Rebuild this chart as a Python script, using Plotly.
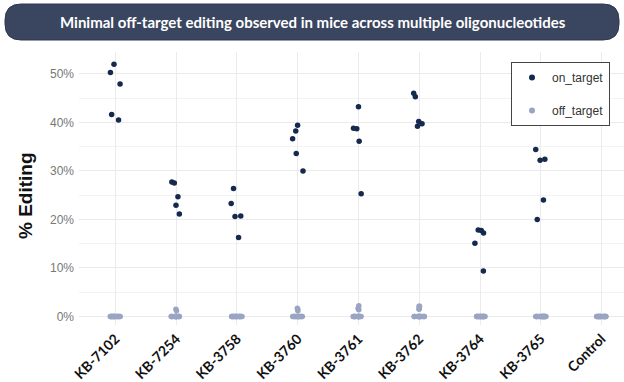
import plotly.graph_objects as go

categories = ["KB-7102", "KB-7254", "KB-3758", "KB-3760", "KB-3761",
              "KB-3762", "KB-3764", "KB-3765", "Control"]

on_target = {
    "KB-7102": [52.0, 50.3, 47.9, 41.6, 40.5],
    "KB-7254": [27.5, 27.7, 24.7, 22.9, 21.1],
    "KB-3758": [26.4, 23.3, 20.7, 20.6, 16.3],
    "KB-3760": [39.4, 38.2, 36.6, 33.6, 30.0],
    "KB-3761": [43.2, 38.7, 38.8, 36.1, 25.3],
    "KB-3762": [46.0, 45.3, 40.2, 39.7, 39.2],
    "KB-3764": [17.8, 17.7, 17.2, 15.1, 9.4],
    "KB-3765": [34.4, 32.2, 32.4, 24.0, 20.0],
    "Control": [],
}

off_target_nonzero = {
    "KB-7102": [],
    "KB-7254": [1.2, 1.5],
    "KB-3758": [],
    "KB-3760": [1.5, 1.2, 1.7],
    "KB-3761": [1.4, 1.8, 2.2, 1.6],
    "KB-3762": [2.1, 1.6, 2.1, 1.5],
    "KB-3764": [],
    "KB-3765": [],
    "Control": [],
}
off_target_zero_count = 20

on_color = "#14294d"
off_color = "#9aa4c3"

on_x, on_y, off_x, off_y = [], [], [], []
for c in categories:
    for v in on_target[c]:
        on_x.append(c); on_y.append(v)
    for v in off_target_nonzero[c] + [0.0] * (off_target_zero_count - len(off_target_nonzero[c])):
        off_x.append(c); off_y.append(v)

fig = go.Figure()
common = dict(boxpoints="all", pointpos=0, fillcolor="rgba(0,0,0,0)",
              line=dict(width=0, color="rgba(0,0,0,0)"), showlegend=False, hoverinfo="y")
fig.add_trace(go.Box(x=on_x, y=on_y, jitter=0.4, marker=dict(color=on_color, size=5.5), name="on_target", **common))
fig.add_trace(go.Box(x=off_x, y=off_y, jitter=0.36, marker=dict(color=off_color, size=5.5), name="off_target", **common))
# legend entries
fig.add_trace(go.Scatter(x=[None], y=[None], mode="markers", name="on_target",
                         marker=dict(color=on_color, size=6), legendgroup="a"))
fig.add_trace(go.Scatter(x=[None], y=[None], mode="markers", name="off_target",
                         marker=dict(color=off_color, size=6), legendgroup="b"))

W, H = 624, 382
L, R, T, B = 79, 0, 52, 57
pw, ph = W - L - R, H - T - B

def px(x):
    return (x - L) / pw

def py(y):
    return (H - B - y) / ph

# rounded title bar
x0, x1, y0, y1, r = 5, 619, 4, 40, 16
path = (f"M {px(x0 + r)},{py(y0)} L {px(x1 - r)},{py(y0)} "
        f"Q {px(x1)},{py(y0)} {px(x1)},{py(y0 + r)} L {px(x1)},{py(y1 - r)} "
        f"Q {px(x1)},{py(y1)} {px(x1 - r)},{py(y1)} L {px(x0 + r)},{py(y1)} "
        f"Q {px(x0)},{py(y1)} {px(x0)},{py(y1 - r)} L {px(x0)},{py(y0 + r)} "
        f"Q {px(x0)},{py(y0)} {px(x0 + r)},{py(y0)} Z")

fig.update_layout(
    width=W, height=H,
    margin=dict(l=L, r=R, t=T, b=B, autoexpand=False),
    paper_bgcolor="white", plot_bgcolor="white",
    boxmode="overlay",
    shapes=[dict(type="path", xref="paper", yref="paper", path=path,
                 fillcolor="#3a4560", line=dict(color="#2e3850", width=1), layer="above")],
    annotations=[
        dict(text="<b>Minimal off-target editing observed in mice across multiple oligonucleotides</b>",
             xref="paper", yref="paper", x=px(313), y=py(22), showarrow=False,
             xanchor="center", yanchor="middle",
             font=dict(family="Lato", size=15, color="white")),
        dict(text="<b>% Editing</b>", xref="paper", yref="paper", x=px(25), y=py(196),
             showarrow=False, textangle=-90, xanchor="center", yanchor="middle",
             font=dict(family="Liberation Sans", size=19, color="#111111")),
    ],
    legend=dict(x=px(511), y=py(62), xanchor="left", yanchor="top",
                bordercolor="#444444", borderwidth=1, bgcolor="white",
                font=dict(family="Liberation Sans", size=12, color="#333333"),
                tracegroupgap=14, traceorder="grouped", itemwidth=30),
    font=dict(family="Liberation Sans"),
)

fig.update_xaxes(type="category", categoryorder="array", categoryarray=categories,
                 range=[-0.6, 8.37], tickangle=-45, automargin=False,
                 tickfont=dict(family="Lato", size=14, color="#111111", weight="bold"),
                 showgrid=True, gridcolor="#ebebeb", gridwidth=1, zeroline=False,
                 showline=False, ticks="", ticklabelstandoff=2)
fig.update_yaxes(range=[-1.75, 54.5], tickvals=[0, 10, 20, 30, 40, 50],
                 ticktext=["0%", "10%", "20%", "30%", "40%", "50%"], automargin=False,
                 tickfont=dict(family="Liberation Sans", size=12, color="#777777"),
                 showgrid=True, gridcolor="#ebebeb", gridwidth=1, zeroline=False,
                 minor=dict(tickvals=[5, 15, 25, 35, 45], showgrid=True, gridcolor="#f3f3f3"),
                 ticks="", ticklabelstandoff=4)

fig.write_html("out.html", config={"displayModeBar": False},
               post_script="document.body.style.margin='0';document.body.style.overflow='hidden';")
